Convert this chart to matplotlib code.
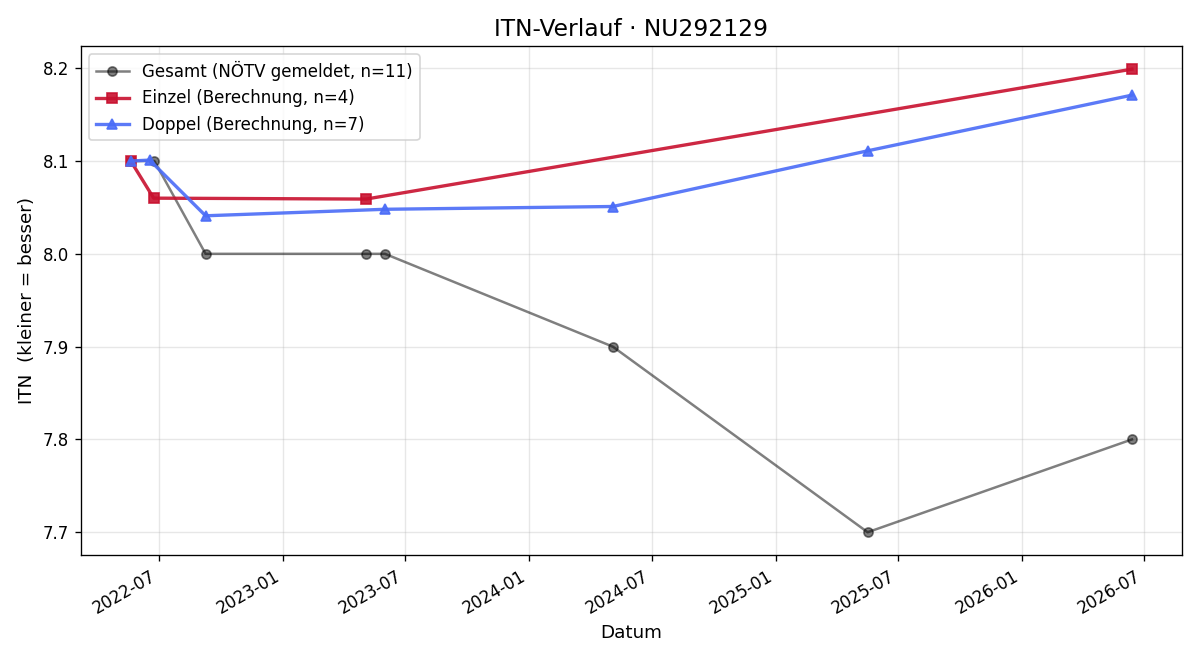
import numpy as np
import pandas as pd
import matplotlib
matplotlib.use("Agg")
import matplotlib.pyplot as plt
import matplotlib.dates as mdates

# Gesamt (gemeldet)
gesamt_dates = pd.to_datetime(["2022-05-20", "2022-06-24", "2022-09-08", "2023-05-04",
                               "2023-06-01", "2024-05-04", "2025-05-17", "2026-06-13"])
gesamt_itn = [8.1, 8.1, 8.0, 8.0, 8.0, 7.9, 7.7, 7.8]

# Einzel (Berechnung)
einzel_dates = pd.to_datetime(["2022-05-20", "2022-06-23", "2023-05-04", "2026-06-13"])
einzel_itn = [8.100, 8.060, 8.059, 8.199]

# Doppel (Berechnung)
doppel_dates = pd.to_datetime(["2022-05-20", "2022-06-17", "2022-09-08", "2023-06-01",
                               "2024-05-04", "2025-05-17", "2026-06-13"])
doppel_itn = [8.100, 8.101, 8.041, 8.048, 8.051, 8.111, 8.171]

fig, ax = plt.subplots(figsize=(10, 5.5), dpi=120)

ax.plot(gesamt_dates, gesamt_itn, color="black", alpha=0.5, marker="o",
        markersize=5.5, linewidth=1.5, label="Gesamt (NÖTV gemeldet, n=11)")
ax.plot(einzel_dates, einzel_itn, color="#c8102e", alpha=0.9, marker="s",
        markersize=6, linewidth=2, label="Einzel (Berechnung, n=4)")
ax.plot(doppel_dates, doppel_itn, color="#4a6cf7", alpha=0.9, marker="^",
        markersize=6, linewidth=2, label="Doppel (Berechnung, n=7)")

ax.set_title("ITN-Verlauf · NU292129", fontsize=14)
ax.set_xlabel("Datum", fontsize=11)
ax.set_ylabel("ITN  (kleiner = besser)", fontsize=11)
ax.grid(True, alpha=0.3)
ax.legend(loc="upper left", fontsize=10)

ax.xaxis.set_major_locator(mdates.MonthLocator(bymonth=[1, 7]))
ax.xaxis.set_major_formatter(mdates.DateFormatter("%Y-%m"))
fig.autofmt_xdate()

fig.tight_layout()
fig.savefig("out.png", dpi=120)
